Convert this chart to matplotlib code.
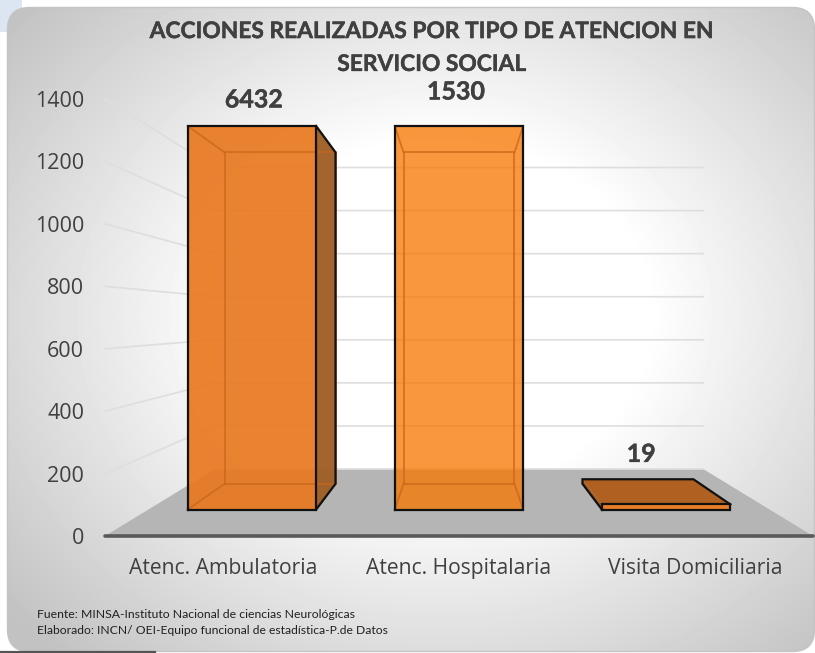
import numpy as np
import matplotlib
matplotlib.use("Agg")
import matplotlib.pyplot as plt
import matplotlib.patheffects as pe
from matplotlib.patches import FancyBboxPatch, Polygon, Rectangle

categories = ["Atenc. Ambulatoria", "Atenc. Hospitalaria", "Visita Domiciliaria"]
values = [6432, 1530, 19]
y_ticks = [0, 200, 400, 600, 800, 1000, 1200, 1400]
title = "ACCIONES REALIZADAS POR TIPO DE ATENCION EN\nSERVICIO SOCIAL"
foot = ["Fuente: MINSA-Instituto Nacional de ciencias Neurológicas",
        "Elaborado: INCN/ OEI-Equipo funcional de estadística-P.de Datos"]
label_offsets_px = [(2, 26), (-3, 34), (-25, 50)]
front_styles = [("#E9791F", 0.92), ("#F77600", 0.76), ("#F07A20", 0.95)]

W, H = 815, 653
fig = plt.figure(figsize=(W / 100, H / 100), dpi=100, facecolor="white")
heavy = [pe.withStroke(linewidth=0.3, foreground="#404040")]

# background panel
bg = fig.add_axes([0, 0, 1, 1], zorder=0)
bg.set_xlim(0, W); bg.set_ylim(H, 0); bg.axis("off")
bg.add_patch(Rectangle((0, 0), 22, 32, fc="#DCE6F2", ec="none"))
yy, xx = np.mgrid[0:H, 0:W]
dist = np.sqrt(((xx - 440) / 520) ** 2 + ((yy - 315) / 430) ** 2)
img = 1 - 0.24 * np.clip((dist - 0.40) / 0.68, 0, 1)
im = bg.imshow(img, cmap="gray", vmin=0, vmax=1, extent=(0, W, H, 0), aspect="auto", zorder=1)
panel = FancyBboxPatch((7.5, 7.5), W - 8, H - 9, boxstyle="round,pad=0,rounding_size=22",
                       fc="none", ec="#C4C4C4", lw=1.0, zorder=2)
bg.add_patch(panel)
im.set_clip_path(panel)
bg.plot([0, 155], [652, 652], color="#555555", lw=1.6, zorder=3)
bg.set_xlim(0, W); bg.set_ylim(H, 0)

# chart axes: front plane of the 3D box
ax = fig.add_axes([105 / W, (H - 536) / H, 708 / W, 437 / H], zorder=1)
ax.patch.set_alpha(0)
ymax = y_ticks[-1]
ax.set_xlim(0, len(categories)); ax.set_ylim(0, ymax)
for s in ax.spines.values():
    s.set_visible(False)

VX, VY = 1.5, 692.0
SHRINK = 0.31


def proj(x, y, d):
    s = 1 - SHRINK * d
    return VX + (x - VX) * s, VY + (y - VY) * s


grid_c = "#DEDEDE"
ax.add_patch(Polygon([proj(0, 0, 0), proj(3, 0, 0), proj(3, 0, 1), proj(0, 0, 1)],
                     fc="#B5B5B5", ec="none", zorder=1, clip_on=False))
for t in y_ticks[1:]:
    a, b, c = proj(0, t, 0), proj(0, t, 1), proj(3, t, 1)
    ax.plot([a[0], b[0], c[0]], [a[1], b[1], c[1]], color=grid_c, lw=1.2, zorder=2, clip_on=False)
a, b = proj(0, 0, 1), proj(3, 0, 1)
ax.plot([a[0], b[0]], [a[1], b[1]], color=grid_c, lw=1.2, zorder=2)
ax.plot([0, 3], [0, 0], color="#595959", lw=2.6, zorder=3, clip_on=False, solid_capstyle="round")

D1, D2 = 0.394, 0.78
GAP = 0.19


def face(pts, color, alpha, z):
    ax.add_patch(Polygon(pts, closed=True, fc=color, alpha=alpha, ec="none", zorder=z, clip_on=False))


for i, v in enumerate(values):
    h = min(v, ymax)
    x0, x1 = i + GAP, i + 1 - GAP
    z = 4 + i
    P = proj
    rear = [P(x0, 0, D2), P(x1, 0, D2), P(x1, h, D2), P(x0, h, D2)]
    if i == 0:
        face([P(x1, 0, D1), P(x1, 0, D2), P(x1, h, D2), P(x1, h, D1)], "#A05F27", 0.97, z + 0.2)
    if i == 2:
        face([P(x0, 0, D1), P(x0, 0, D2), P(x0, h, D2), P(x0, h, D1)], "#A05F27", 1.0, z + 0.2)
        face([P(x0, h, D1), P(x1, h, D1), P(x1, h, D2), P(x0, h, D2)], "#B06020", 1.0, z + 0.3)
    front = [P(x0, 0, D1), P(x1, 0, D1), P(x1, h, D1), P(x0, h, D1)]
    fc, fa = front_styles[i]
    face(front, fc, fa, z + 0.5)
    if i < 2:
        for pts in ([rear[0], rear[1], rear[2], rear[3], rear[0]],
                    [P(x0, h, D1), rear[3]], [P(x0, 0, D1), rear[0]],
                    [P(x1, h, D1), rear[2]], [P(x1, 0, D1), rear[1]]):
            ax.plot([p[0] for p in pts], [p[1] for p in pts], color="#C9661A", lw=1.3, alpha=0.75,
                    zorder=z + 0.6, clip_on=False)
    outlines = [front + [front[0]]]
    if i == 0:
        outlines.append([P(x1, h, D1), P(x1, h, D2), P(x1, 0, D2), P(x1, 0, D1)])
    if i == 2:
        outlines.append([P(x0, 0, D1), P(x0, 0, D2), P(x0, h, D2), P(x1, h, D2), P(x1, h, D1)])
    for pts in outlines:
        ax.plot([p[0] for p in pts], [p[1] for p in pts], color="#111111", lw=1.6, zorder=z + 0.7,
                clip_on=False, solid_joinstyle="miter")
    lx, ly = P((x0 + x1) / 2, h, D1)
    ax.annotate(str(v), (lx, ly), xytext=label_offsets_px[i], textcoords="offset pixels",
                ha="center", va="center", fontsize=18, fontweight="bold", family="Lato",
                color="#404040", zorder=20, annotation_clip=False, path_effects=heavy)

ax.set_yticks(y_ticks)
ax.set_xticks([i + 0.5 for i in range(len(categories))], categories)
ax.tick_params(axis="y", length=0, pad=15, labelsize=15.5, labelcolor="#404040")
ax.tick_params(axis="x", length=0, pad=16, labelsize=15.2, labelcolor="#404040")
for t in ax.get_xticklabels() + ax.get_yticklabels():
    t.set_family("Open Sans")

fig.text(432 / W, 1 - 48 / H, title, ha="center", va="center", fontsize=16.4, fontweight="bold",
         family="Lato", color="#404040", linespacing=1.7, zorder=20, path_effects=heavy)
fig.text(37 / W, 1 - 614 / H, foot[0], ha="left", va="center", fontsize=8.8, family="Lato", color="#202020")
fig.text(37 / W, 1 - 631 / H, foot[1], ha="left", va="center", fontsize=8.75, family="Lato", color="#202020")

fig.savefig("out.png", dpi=100)
